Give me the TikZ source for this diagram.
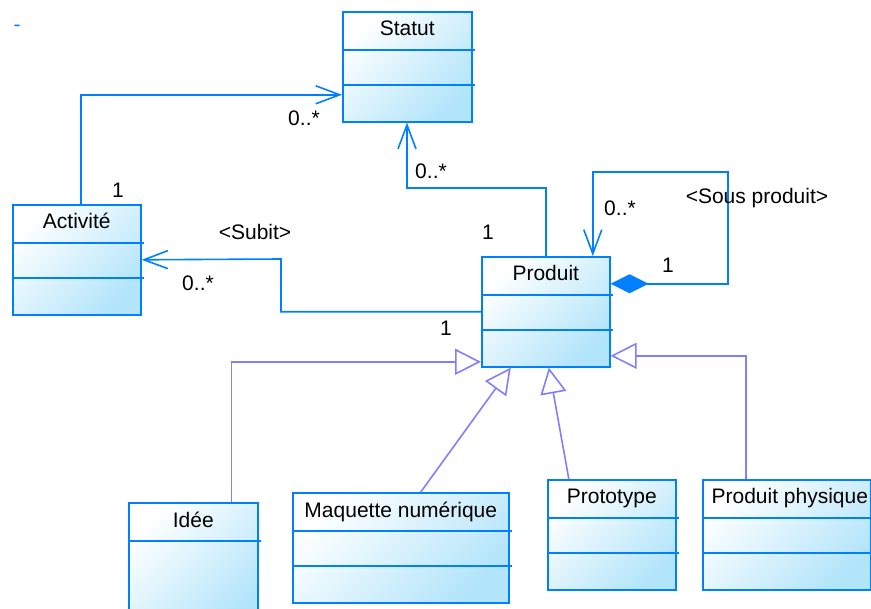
\documentclass[tikz,border=0pt]{standalone}
\usepackage{fontspec}
\setmainfont{Liberation Sans}
\usetikzlibrary{arrows.meta}

\definecolor{umlbleu}{RGB}{0,128,255}
\definecolor{umlfond}{RGB}{178,228,250}
\definecolor{umlherit}{RGB}{128,128,255}

\begin{document}
\begin{tikzpicture}[x=1pt, y=-1pt,
		classe/.style={draw=umlbleu, line width=1.6pt, top color=white, bottom color=umlfond,
			shading angle=45, anchor=north west, inner sep=0pt, minimum height=110pt},
		titre/.style={anchor=base, inner sep=0pt, font=\fontsize{21}{25}\selectfont},
		mult/.style={inner sep=0pt, font=\fontsize{21}{25}\selectfont},
		assoc/.style={umlbleu, line width=1.6pt,
			arrows={-Straight Barb[length=24pt, width=18pt]}},
		compo/.style={umlbleu, line width=1.6pt,
			arrows={Diamond[length=38pt, width=19pt]-Straight Barb[length=24pt, width=18pt]}},
		herit/.style={umlherit, line width=1.6pt,
			arrows={-Triangle[open, length=26pt, width=26pt]}}]

	\useasboundingbox (0,0) rectangle (871,609);

	\node[mult, text=umlbleu] (tiret) at (17,28) {-};

	% classes
	\node[classe, minimum width=129pt] (statut) at (342,11) {};
	\node[classe, minimum width=128pt] (activite) at (12,204) {};
	\node[classe, minimum width=128pt] (produit) at (481,256) {};
	\node[classe, minimum width=129pt, minimum height=130pt] (idee) at (128,502) {};
	\node[classe, minimum width=216pt] (maquette) at (292,492) {};
	\node[classe, minimum width=128pt] (prototype) at (547,479) {};
	\node[classe, minimum width=168pt] (physique) at (702,479) {};

	\node[titre] (t-statut) at ([yshift=-25pt]statut.north) {Statut};
	\node[titre] (t-activite) at ([yshift=-25pt]activite.north) {Activité};
	\node[titre] (t-produit) at ([yshift=-25pt]produit.north) {Produit};
	\node[titre] (t-idee) at ([yshift=-26pt]idee.north) {Idée};
	\node[titre] (t-maquette) at ([yshift=-26pt]maquette.north) {Maquette numérique};
	\node[titre] (t-prototype) at ([yshift=-25pt]prototype.north) {Prototype};
	\node[titre] (t-physique) at ([yshift=-25pt, xshift=3pt]physique.north) {Produit physique};

	% compartiments
	\foreach \c in {statut,activite,produit,maquette,prototype,physique} {
		\draw[umlbleu, line width=1.6pt] ([yshift=-39pt]\c.north west) -- ([yshift=-39pt, xshift=2pt]\c.north east);
		\draw[umlbleu, line width=1.6pt] ([yshift=-74pt]\c.north west) -- ([yshift=-74pt, xshift=2pt]\c.north east);
	}
	\draw[umlbleu, line width=1.6pt] ([yshift=-39pt]idee.north west) -- ([yshift=-39pt, xshift=2pt]idee.north east);

	% associations
	\coordinate (c-statut) at (407,188);
	\coordinate (c-subit) at (281,259);
	\coordinate (c-sous) at (728,172);

	\draw[assoc] ([xshift=4pt]activite.north) |- ([yshift=-28pt]statut.west);
	\draw[assoc] (produit.north) |- (c-statut) -- (c-statut |- statut.south);
	\draw[assoc] (produit.west) -| (c-subit) -- (activite.east);
	\draw[compo] ([yshift=28pt]produit.east) -| (c-sous) -| ([xshift=47pt]produit.north);

	% heritage
	\draw[herit] ([xshift=38pt]idee.north) |- ([yshift=-50pt]produit.west);
	\draw[herit] ([xshift=20pt]maquette.north) -- ([xshift=-35pt]produit.south);
	\draw[herit] ([xshift=-43pt]prototype.north) -- ([xshift=3pt]produit.south);
	\draw[herit] ([xshift=-41pt]physique.north) |- ([yshift=-44pt]produit.east);

	% multiplicites
	\node[mult] (m-act1) at (118,190) {1};
	\node[mult] (m-act2) at (304,118) {0..*};
	\node[mult] (m-stat1) at (431,171) {0..*};
	\node[mult] (m-stat2) at (488,232) {1};
	\node[mult] (r-subit) at (255,232) {<Subit>};
	\node[mult] (m-sub1) at (198,283) {0..*};
	\node[mult] (m-sub2) at (446,328) {1};
	\node[mult] (m-sous1) at (620,208) {0..*};
	\node[mult] (m-sous2) at (668,265) {1};
	\node[mult] (r-sous) at (757,198) {<Sous produit>};
\end{tikzpicture}
\end{document}
